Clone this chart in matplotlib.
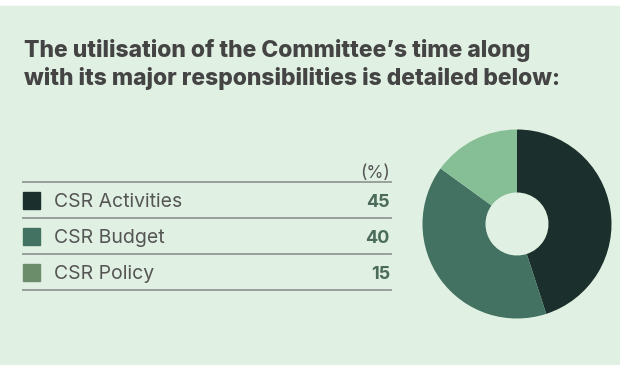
import matplotlib.pyplot as plt
from matplotlib.patches import Rectangle
from matplotlib.lines import Line2D

title_lines = ["The utilisation of the Committee\u2019s time along",
               "with its major responsibilities is detailed below:"]
categories = ["CSR Activities", "CSR Budget", "CSR Policy"]
values = [45, 40, 15]
legend_colors = ["#1b302c", "#437262", "#6b8d6a"]
pie_colors = ["#1b302c", "#437262", "#86be95"]
unit_label = "(%)"

BG = "#e0f0e2"
W, H = 620, 365

fig = plt.figure(figsize=(W / 100, H / 100), dpi=100, facecolor="white")

# full-figure axes in pixel coordinates for text, table rules and swatches
ax = fig.add_axes([0, 0, 1, 1])
ax.set_xlim(0, W)
ax.set_ylim(H, 0)
ax.axis("off")
ax.add_patch(Rectangle((0, 6), W, H - 7, color=BG, zorder=0))

font = "Inter"
for i, line in enumerate(title_lines):
    ax.text(24, 57 + i * 28, line, fontsize=16.5, fontweight="heavy",
            color="#444444", va="baseline", ha="left", family=font)

ax.text(390, 178, unit_label, fontsize=12.5, color="#555555",
        ha="right", va="baseline", family=font)

row_h = 36
top = 182
for y in [top + k * row_h for k in range(len(categories) + 1)]:
    ax.add_line(Line2D([23, 391], [y, y], color="#9a9f9b", lw=1.4))

for i, (cat, val) in enumerate(zip(categories, values)):
    yc = top + row_h * i + row_h / 2
    ax.add_patch(Rectangle((23, yc - 8.5), 17, 17, color=legend_colors[i]))
    ax.text(54, yc + 7, cat, fontsize=14, color="#555555",
            ha="left", va="baseline", family=font)
    ax.text(390, yc + 7, str(val), fontsize=13, fontweight="bold",
            color="#4b6b5b", ha="right", va="baseline", family=font)

# donut
cx, cy, r = 517, 224, 94.5
pax = fig.add_axes([(cx - r) / W, (H - cy - r) / H, 2 * r / W, 2 * r / H])
pax.pie(values, colors=pie_colors, startangle=90, counterclock=False,
        radius=1, wedgeprops=dict(width=1 - 31.5 / r, linewidth=0))
pax.set_xlim(-1, 1)
pax.set_ylim(-1, 1)
pax.axis("off")

fig.savefig("out.png", dpi=100, facecolor="white")
